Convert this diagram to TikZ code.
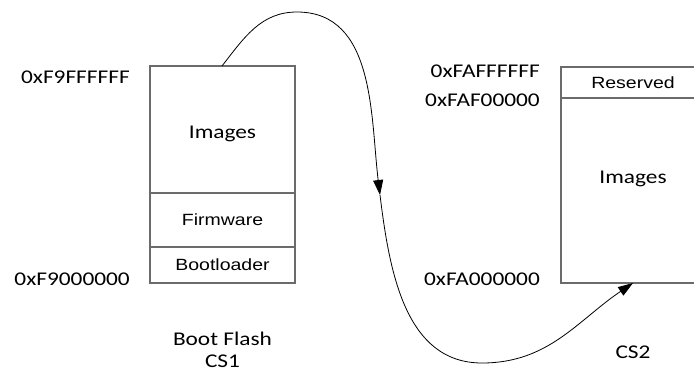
\documentclass[tikz,border=0pt]{standalone}
\usepackage{fontspec}
\setmainfont[FakeStretch=1.2]{Carlito}
\newfontfamily\arialf[FakeStretch=1.2]{Liberation Sans}
\usetikzlibrary{arrows.meta}
\begin{document}
\begin{tikzpicture}[x=1bp,y=1bp,
  boxline/.style={draw=black!58, line width=1.4bp},
  lbl/.style={inner sep=0pt, font=\fontsize{19.5}{22}\selectfont},
  seg/.style={inner sep=0pt, font=\arialf\fontsize{16.3}{19}\selectfont},
  curve/.style={draw=black, line width=0.8bp},
  tip/.style={-{Triangle[length=15bp,width=10bp]}}]
\useasboundingbox (0,0) rectangle (694,-373);
\clip (0,0) rectangle (694,-373);
% left memory (Boot Flash)
\draw[boxline] (150,-66) rectangle (295,-283);
\draw[boxline] (150,-193) -- (295,-193);
\draw[boxline] (150,-247) -- (295,-247);
% right memory (CS2)
\draw[boxline] (561,-67) rectangle (706,-283);
\draw[boxline] (561,-98) -- (706,-98);
% texts left
\node[lbl, anchor=base east] (a1) at (130,-83) {0xF9FFFFFF};
\node[lbl, anchor=base east] (a2) at (130,-285) {0xF9000000};
\node[lbl, anchor=base] (img1) at (222.5,-138) {Images};
\node[seg, anchor=base] (fw) at (222.5,-225) {Firmware};
\node[seg, anchor=base] (bl) at (222.5,-270) {Bootloader};
\node[lbl, anchor=base] (bf) at (222.5,-345) {Boot Flash};
\node[lbl, anchor=base] (cs1) at (222.5,-367) {CS1};
% texts right
\node[lbl, anchor=base east] (b1) at (540,-77) {0xFAFFFFFF};
\node[lbl, anchor=base east] (b2) at (540,-106) {0xFAF00000};
\node[lbl, anchor=base east] (b3) at (540,-285) {0xFA000000};
\node[seg, anchor=base] (rs) at (633,-88) {Reserved};
\node[lbl, anchor=base] (img2) at (633,-183) {Images};
\node[lbl, anchor=base] (cs2) at (633,-358) {CS2};
% connector
\coordinate (cstart) at (222,-66);
\coordinate (cpeak) at (297,-12);
\coordinate (cmid) at (380,-195);
\coordinate (cbot) at (482,-363);
\coordinate (cend) at (633,-283);
\draw[curve, tip] (cstart) to[out=52,in=180] (cpeak) to[out=0,in=97] (cmid);
\draw[curve, tip] (cmid) to[out=-83,in=180] (cbot) to[out=0,in=-146] (cend);
\end{tikzpicture}
\end{document}
